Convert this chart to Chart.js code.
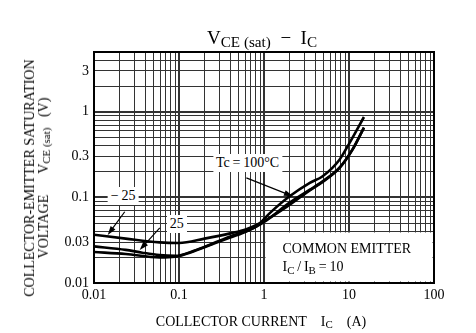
<!DOCTYPE html>
<html>
<head>
<meta charset="utf-8">
<script src="https://cdn.jsdelivr.net/npm/chart.js@4"></script>
<style>
  body { margin: 0; background: #fff; }
  #wrap { position: relative; width: 476px; height: 333px; font-family: 'Liberation Serif', 'Times New Roman', serif; color: #000; }
  #wrap canvas { position: absolute; left: 0; top: 0; }
  .txt { position: absolute; white-space: nowrap; line-height: 1; }
  .sub { font-size: 0.78em; position: relative; top: 0.22em; }
  .box { background: #fff; padding: 2px 3px; transform: translate(-50%, -50%); }
</style>
</head>
<body>
<div id="wrap">
  <canvas id="chart" width="476" height="333"></canvas>

  <!-- 🔹 titles -->
  <div class="txt" id="title" style="font-size:19px; left:262px; top:28px; transform:translateX(-50%);">V<span class="sub" style="font-size:0.8em">CE (sat)</span>&nbsp;&nbsp;−&nbsp;&nbsp;I<span class="sub" style="font-size:0.8em">C</span></div>
  <div class="txt" style="font-size:14px; left:261px; top:315px; transform:translateX(-50%);">COLLECTOR CURRENT&nbsp;&nbsp;&nbsp;&nbsp;I<span class="sub">C</span>&nbsp;&nbsp;&nbsp;&nbsp;(A)</div>
  <div class="txt" style="font-size:14px; left:37px; top:178px; line-height:14px; text-align:center; transform:translate(-50%,-50%) rotate(-90deg);">COLLECTOR-EMITTER SATURATION<br>VOLTAGE&nbsp;&nbsp;&nbsp;&nbsp;&nbsp;&nbsp;V<span class="sub">CE (sat)</span>&nbsp;&nbsp;&nbsp;(V)</div>

  <!-- 🔹 annotation labels, placed from data coords after render -->
  <div class="txt box" id="lblTc" style="font-size:14px;">Tc&#8201;=&#8201;100°C</div>
  <div class="txt box" id="lblM25" style="font-size:14px;">−&#8201;25</div>
  <div class="txt box" id="lbl25" style="font-size:14px;">25</div>
  <div class="txt" id="lblCE1" style="font-size:14px;">COMMON EMITTER</div>
  <div class="txt" id="lblCE2" style="font-size:14px;">I<span class="sub">C</span>&#8201;/&#8201;I<span class="sub">B</span>&#8201;=&#8201;10</div>
</div>

<script>
// collector current (A) and VCE(sat) (V) per case temperature
const icM25 = [0.01, 0.0236, 0.059, 0.1, 0.2, 0.4, 0.62, 1.07, 2.0, 3.46, 4.9, 7.77, 11, 15];
const vceM25 = [0.0367, 0.033, 0.0298, 0.0293, 0.033, 0.038, 0.0425, 0.055, 0.082, 0.121, 0.152, 0.222, 0.362, 0.655];

const ic25 = [0.01, 0.0236, 0.037, 0.059, 0.091, 0.15, 0.25, 0.4, 0.62, 0.82, 1.07, 2.0, 3.46, 4.9, 7.77, 11, 15];
const vce25 = [0.0268, 0.0244, 0.0226, 0.0212, 0.0208, 0.0238, 0.029, 0.035, 0.0405, 0.046, 0.054, 0.087, 0.123, 0.154, 0.224, 0.364, 0.655];

const ic100 = [0.01, 0.0236, 0.059, 0.09, 0.15, 0.25, 0.4, 0.62, 0.82, 1.17, 2.0, 3.46, 4.9, 7.77, 10.2, 15];
const vce100 = [0.023, 0.0218, 0.0199, 0.0203, 0.0235, 0.0285, 0.034, 0.040, 0.046, 0.0655, 0.103, 0.148, 0.177, 0.278, 0.437, 0.87];

// axes
const xTickLabels = [0.01, 0.1, 1, 10, 100];
const yTickLabels = [0.01, 0.03, 0.1, 0.3, 1, 3];
const xRange = [0.01, 100];
const yRange = [0.01, 5];

// 1..9 per decade grid
function logGrid(min, max) {
  const out = [];
  for (let e = Math.floor(Math.log10(min)); e <= Math.ceil(Math.log10(max)); e++) {
    for (let m = 1; m <= 9; m++) {
      const v = Number((m * Math.pow(10, e)).toPrecision(6));
      if (v >= min - 1e-12 && v <= max + 1e-12) out.push(v);
    }
  }
  return out;
}
const same = (a, b) => Math.abs(a - b) < 1e-9 * Math.max(1, b);
const isDecade = v => same(Math.log10(v), Math.round(Math.log10(v)));
const labelFor = (list, v) => list.some(l => same(l, v)) ? String(v) : '';
const toPts = (xs, ys) => xs.map((x, i) => ({ x: x, y: ys[i] }));

// annotations: label centre + arrow (data units)
const notes = [
  { id: 'lblTc', at: [0.64, 0.25], arrow: [[0.62, 0.169], [2.19, 0.103]] },
  { id: 'lblM25', at: [0.022, 0.105], arrow: [[0.023, 0.068], [0.0145, 0.0364]] },
  { id: 'lbl25', at: [0.094, 0.049], arrow: [[0.0594, 0.044], [0.0345, 0.0243]] }
];

const frame = {
  id: 'frame',
  beforeDatasetsDraw(chart) {
    // white panel for the COMMON EMITTER note
    const { ctx, chartArea: a, scales: { x, y } } = chart;
    const l = x.getPixelForValue(1) + 1.5, t = y.getPixelForValue(0.04) + 1;
    ctx.save();
    ctx.fillStyle = '#fff';
    ctx.fillRect(l, t, a.right - 1.5 - l, a.bottom - 1.5 - t);
    ctx.restore();
  },
  afterDraw(chart) {
    const { ctx, chartArea: a, scales: { x, y } } = chart;
    ctx.save();
    ctx.strokeStyle = '#000';
    ctx.lineWidth = 2;
    ctx.strokeRect(a.left, a.top, a.right - a.left, a.bottom - a.top);
    ctx.lineWidth = 1.2;
    ctx.fillStyle = '#000';
    notes.forEach(n => {
      const [p0, p1] = n.arrow;
      const x0 = x.getPixelForValue(p0[0]), y0 = y.getPixelForValue(p0[1]);
      const x1 = x.getPixelForValue(p1[0]), y1 = y.getPixelForValue(p1[1]);
      const ang = Math.atan2(y1 - y0, x1 - x0);
      ctx.beginPath();
      ctx.moveTo(x0, y0);
      ctx.lineTo(x1 - 6 * Math.cos(ang), y1 - 6 * Math.sin(ang));
      ctx.stroke();
      ctx.beginPath();
      ctx.moveTo(x1, y1);
      ctx.lineTo(x1 - 9 * Math.cos(ang) + 3 * Math.sin(ang), y1 - 9 * Math.sin(ang) - 3 * Math.cos(ang));
      ctx.lineTo(x1 - 9 * Math.cos(ang) - 3 * Math.sin(ang), y1 - 9 * Math.sin(ang) + 3 * Math.cos(ang));
      ctx.closePath();
      ctx.fill();
    });
    ctx.restore();
  }
};

const curve = (xs, ys) => ({
  data: toPts(xs, ys),
  borderColor: '#000',
  borderWidth: 2.6,
  pointRadius: 0,
  fill: false,
  cubicInterpolationMode: 'monotone'
});

const gridOpts = {
  color: '#333',
  lineWidth: c => (c.tick && isDecade(c.tick.value)) ? 2 : 1,
  drawTicks: false
};

const chart = new Chart(document.getElementById('chart'), {
  type: 'line',
  data: {
    datasets: [curve(icM25, vceM25), curve(ic25, vce25), curve(ic100, vce100)]
  },
  options: {
    responsive: false,
    animation: false,
    layout: { padding: { left: 0, top: 52, right: 42, bottom: 0 } },
    plugins: { legend: { display: false }, tooltip: { enabled: false } },
    scales: {
      x: {
        type: 'logarithmic',
        min: xRange[0], max: xRange[1],
        afterBuildTicks: s => { s.ticks = logGrid(xRange[0], xRange[1]).map(v => ({ value: v })); },
        afterFit: s => { s.height = 50; },
        grid: gridOpts,
        border: { color: '#000', width: 2 },
        ticks: {
          autoSkip: false, maxRotation: 0, padding: 4, color: '#000',
          font: { size: 14, family: "'Liberation Serif', serif" },
          callback: v => labelFor(xTickLabels, v)
        }
      },
      y: {
        type: 'logarithmic',
        min: yRange[0], max: yRange[1],
        afterBuildTicks: s => { s.ticks = logGrid(yRange[0], yRange[1]).map(v => ({ value: v })); },
        afterFit: s => { s.width = 94; },
        grid: gridOpts,
        border: { color: '#000', width: 2 },
        ticks: {
          autoSkip: false, padding: 5, color: '#000',
          font: { size: 14, family: "'Liberation Serif', serif" },
          callback: v => labelFor(yTickLabels, v)
        }
      }
    }
  },
  plugins: [frame]
});

// place the html labels on the chart's own scales
const sx = chart.scales.x, sy = chart.scales.y;
notes.forEach(n => {
  const el = document.getElementById(n.id);
  el.style.left = sx.getPixelForValue(n.at[0]) + 'px';
  el.style.top = sy.getPixelForValue(n.at[1]) + 'px';
});
const ceLeft = sx.getPixelForValue(1.65);
document.getElementById('lblCE1').style.left = ceLeft + 'px';
document.getElementById('lblCE1').style.top = (sy.getPixelForValue(0.027) - 4) + 'px';
document.getElementById('lblCE2').style.left = ceLeft + 'px';
document.getElementById('lblCE2').style.top = (sy.getPixelForValue(0.0165) - 4) + 'px';
</script>
</body>
</html>
